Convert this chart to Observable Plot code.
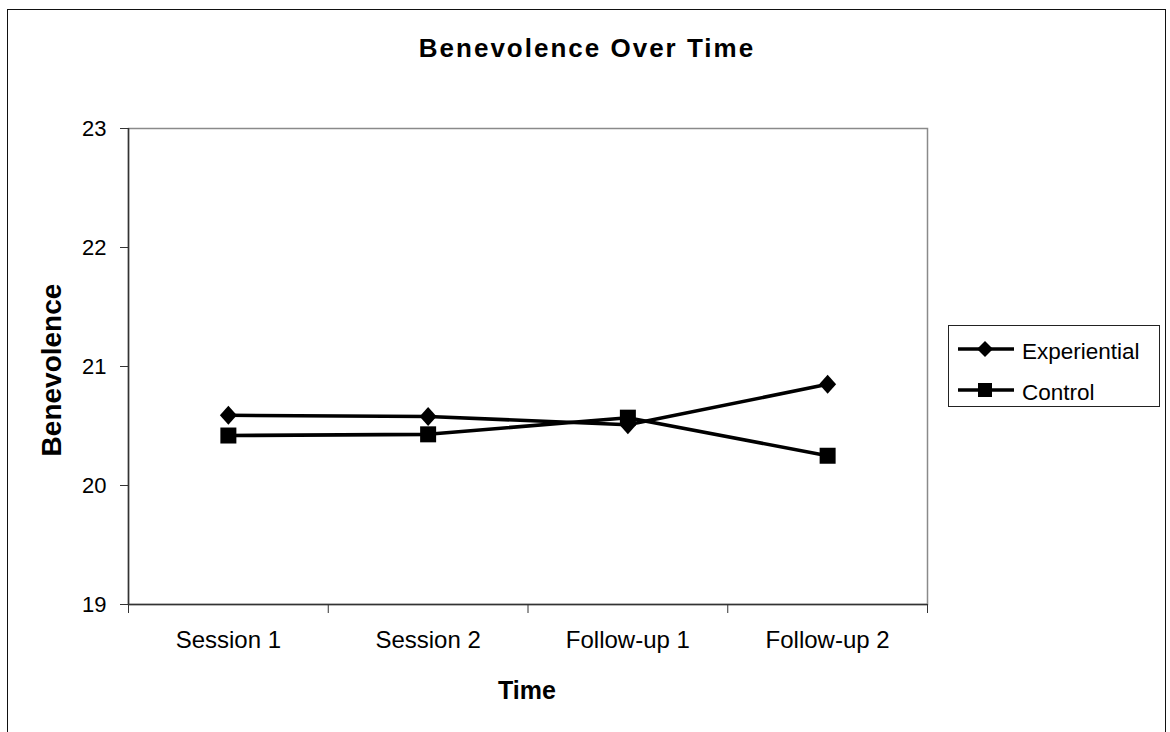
<!DOCTYPE html>
<html>
<head>
<meta charset="utf-8">
<script src="https://cdn.jsdelivr.net/npm/d3@7"></script>
<script src="https://cdn.jsdelivr.net/npm/@observablehq/plot@0.6"></script>
<style>
  html, body { margin: 0; padding: 0; background: #fff; }
  #wrap { position: relative; width: 1170px; height: 732px; overflow: hidden;
          font-family: "Liberation Sans", Arial, sans-serif; color: #000; background: #fff; }
  #chart { position: absolute; left: 0; top: 0; }
  #frame { position: absolute; left: 7px; top: 9px; width: 1159px; height: 760px;
           border: 1.5px solid #111; box-sizing: border-box; }
  #title { position: absolute; left: 0; top: 35px; width: 1174px; text-align: center;
           font-weight: bold; font-size: 26px; line-height: 26px; letter-spacing: 2px; }
  #xlab { position: absolute; left: 427px; top: 678px; width: 200px; text-align: center;
          font-weight: bold; font-size: 25px; line-height: 25px; }
  #ylab { position: absolute; left: 52px; top: 370px; font-weight: bold; font-size: 28px;
          line-height: 28px; white-space: nowrap; transform: translate(-50%, -50%) rotate(-90deg); }
  #legend { position: absolute; left: 948px; top: 325px; width: 212px; height: 82px;
            border: 1.2px solid #222; box-sizing: border-box; background: #fff; }
  #legend .row { position: absolute; left: 0; height: 30px; }
  #legend svg { position: absolute; left: 8px; top: 0; }
  #legend span { position: absolute; left: 73px; top: 3px; font-size: 22.5px; line-height: 24px; white-space: nowrap; }
  #chart g[aria-label^="y-axis"] text { font-size: 22px; }
  #chart g[aria-label^="x-axis"] text { font-size: 24px; }
</style>
</head>
<body>
<div id="wrap">
  <div id="chart"></div>
  <div id="frame"></div>
  <div id="title">Benevolence Over Time</div>
  <div id="ylab">Benevolence</div>
  <div id="xlab">Time</div>
  <div id="legend"></div>
</div>
<script>
// ---- data ----
const categories = ["Session 1", "Session 2", "Follow-up 1", "Follow-up 2"];
const experiential = [20.59, 20.58, 20.51, 20.85];
const control = [20.42, 20.43, 20.57, 20.25];
const seriesNames = ["Experiential", "Control"];
const yTicks = [19, 20, 21, 22, 23];

// ---- table built from arrays ----
const expRows = categories.map((c, i) => ({ i, category: c, value: experiential[i], series: seriesNames[0] }));
const conRows = categories.map((c, i) => ({ i, category: c, value: control[i], series: seriesNames[1] }));
const rows = expRows.concat(conRows);
const catIndex = categories.map((c, i) => i);
const boundaries = [-0.5].concat(catIndex.map(i => i + 0.5));

// custom symbols (r = half-size)
const diamond = { draw(ctx, size) { const r = Math.sqrt(size / Math.PI);
  ctx.moveTo(0, -r * 1.12); ctx.lineTo(r, 0); ctx.lineTo(0, r * 1.12); ctx.lineTo(-r, 0); ctx.closePath(); } };
const square = { draw(ctx, size) { const r = Math.sqrt(size / Math.PI);
  ctx.moveTo(-r, -r); ctx.lineTo(r, -r); ctx.lineTo(r, r); ctx.lineTo(-r, r); ctx.closePath(); } };

const chart = Plot.plot({
  width: 1170,
  height: 732,
  marginLeft: 128,
  marginRight: 243,
  marginTop: 128,
  marginBottom: 128,
  style: { fontFamily: "Liberation Sans, Arial, sans-serif", background: "transparent", color: "#000" },
  x: { type: "linear", domain: [-0.5, categories.length - 0.5], axis: null },
  y: { domain: [yTicks[0], yTicks[yTicks.length - 1]], axis: null },
  marks: [
    Plot.frame({ stroke: "#8a8a8a", strokeWidth: 1.5 }),
    Plot.ruleX([-0.5], { stroke: "#333", strokeWidth: 1.5 }),
    Plot.ruleY([yTicks[0]], { stroke: "#333", strokeWidth: 1.5 }),
    Plot.axisY(yTicks, { tickSize: 8, tickPadding: 14, stroke: "#333", label: null, tickFormat: d => String(d), fontSize: 22 }),
    Plot.axisX(boundaries, { tickSize: 9, stroke: "#333", label: null, tickFormat: () => "" }),
    Plot.axisX(catIndex, { tickSize: 0, tickPadding: 26, label: null, tickFormat: i => categories[i], fontSize: 24 }),
    Plot.line(rows, { x: "i", y: "value", z: "series", stroke: "#000", strokeWidth: 3.6 }),
    Plot.dot(expRows, { x: "i", y: "value", symbol: diamond, r: 8.5, fill: "#000", stroke: "none" }),
    Plot.dot(conRows, { x: "i", y: "value", symbol: square, r: 8, fill: "#000", stroke: "none" })
  ]
});
document.getElementById("chart").appendChild(chart);

// ---- legend ----
const legend = document.getElementById("legend");
const legendSymbols = [
  '<path d="M28,4 L36,12 L28,20 L20,12 Z" fill="#000"/>',
  '<rect x="21" y="5" width="14" height="14" fill="#000"/>'
];
seriesNames.forEach((name, k) => {
  const row = document.createElement("div");
  row.className = "row";
  row.style.top = (11 + k * 41) + "px";
  row.innerHTML = '<svg width="60" height="24"><line x1="1" x2="57" y1="12" y2="12" stroke="#000" stroke-width="3.5"/>' +
    legendSymbols[k] + '</svg><span>' + name + '</span>';
  legend.appendChild(row);
});
</script>
</body>
</html>
